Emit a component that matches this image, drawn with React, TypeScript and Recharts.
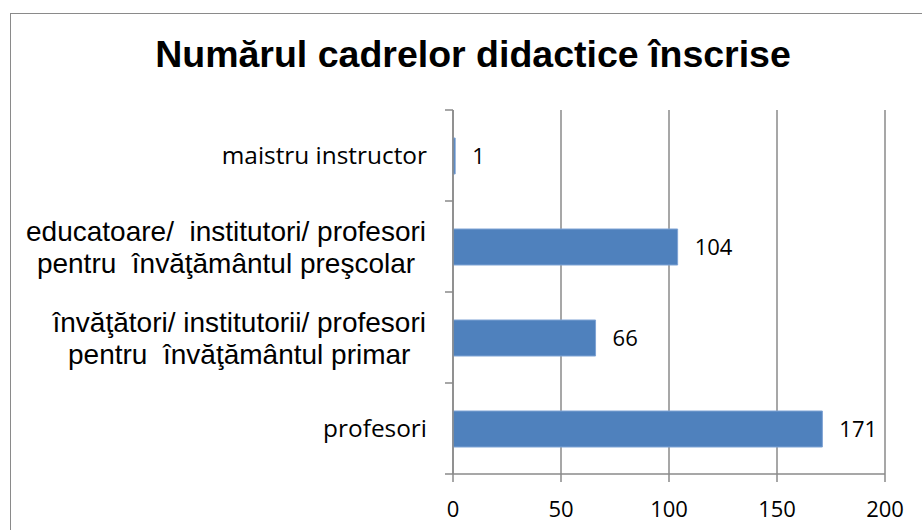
import React from "react";
import { BarChart, Bar, XAxis, YAxis, CartesianGrid, LabelList } from "recharts";

const categories: string[][] = [
  ["maistru instructor"],
  ["educatoare/  institutori/ profesori", "pentru  învăţământul preşcolar"],
  ["învăţători/ institutorii/ profesori", "pentru  învăţământul primar"],
  ["profesori"],
];
const values: number[] = [1, 104, 66, 171];
const xTicks: number[] = [0, 50, 100, 150, 200];
const title = "Numărul cadrelor didactice înscrise";

const data = categories.map((lines, i) => ({ name: lines.join("\n"), value: values[i] }));

const W = 922;
const H = 530;
const TOP = 110;
const BOTTOM_AXIS = 56;
const AXIS_X = 453;
const BAND = (H - BOTTOM_AXIS - TOP) / categories.length;
const GRID = "#8a8a8a";
const MULTI_FONT = "28px 'Liberation Sans', Arial";

let ctx: CanvasRenderingContext2D | null = null;
const measure = (s: string): number => {
  if (typeof document === "undefined") return s.length * 12;
  if (!ctx) ctx = document.createElement("canvas").getContext("2d");
  if (!ctx) return s.length * 12;
  ctx.font = MULTI_FONT;
  return ctx.measureText(s).width;
};

const YTick = (props: any) => {
  const { y, payload, index } = props;
  const lines: string[] = String(payload.value).split("\n");
  const last = index === categories.length - 1;
  const right = AXIS_X - 27;
  let cx = right;
  if (lines.length > 1) {
    const maxW = Math.max(...lines.map(measure));
    cx = right - maxW / 2;
  }
  return (
    <g>
      <line x1={AXIS_X - 8} x2={AXIS_X} y1={y - BAND / 2} y2={y - BAND / 2} stroke={GRID} strokeWidth={1.5} />
      {last && (
        <line x1={AXIS_X - 8} x2={AXIS_X} y1={y + BAND / 2} y2={y + BAND / 2} stroke={GRID} strokeWidth={1.5} />
      )}
      {lines.length === 1 ? (
        <text x={AXIS_X - 26} y={y + 8} textAnchor="end" fill="#000" fontFamily="'Open Sans'" fontSize={24.4}>
          {lines[0]}
        </text>
      ) : (
        <text
          textAnchor="middle"
          fill="#000"
          fontFamily="'Liberation Sans', Arial"
          fontSize={28}
          style={{ whiteSpace: "pre" }}
        >
          <tspan x={cx} y={y - 6}>{lines[0]}</tspan>
          <tspan x={cx} y={y + 26}>{lines[1]}</tspan>
        </text>
      )}
    </g>
  );
};

export default function App() {
  return (
    <div style={{ position: "absolute", left: 0, top: 0, width: W, height: H, background: "#fff", overflow: "hidden" }}>
      <div
        style={{
          position: "absolute",
          left: 10,
          top: 13,
          width: W,
          height: H,
          borderTop: "1.5px solid #8a8a8a",
          borderLeft: "1.5px solid #8a8a8a",
          boxSizing: "border-box",
        }}
      />
      <div
        style={{
          position: "absolute",
          left: 0,
          top: 36.3,
          width: 946,
          textAlign: "center",
          fontFamily: "'Liberation Sans', Arial",
          fontWeight: "bold",
          fontSize: 37.5,
          lineHeight: "37.5px",
          color: "#000",
          whiteSpace: "nowrap",
        }}
      >
        {title}
      </div>
      <div style={{ position: "absolute", left: 0, top: 0 }}>
        <BarChart
          width={W}
          height={H}
          data={data}
          layout="vertical"
          margin={{ top: TOP, right: 37, bottom: 0, left: 0 }}
        >
          <CartesianGrid horizontal={false} stroke={GRID} strokeWidth={1.5} />
          <XAxis
            type="number"
            domain={[0, 200]}
            ticks={xTicks}
            height={BOTTOM_AXIS}
            tickSize={8}
            tickMargin={19}
            axisLine={{ stroke: GRID, strokeWidth: 1.5 }}
            tickLine={{ stroke: GRID, strokeWidth: 1.5 }}
            tick={{ fill: "#000", fontFamily: "'Open Sans'", fontSize: 22 }}
            interval={0}
          />
          <YAxis
            type="category"
            dataKey="name"
            width={AXIS_X}
            tickLine={false}
            axisLine={{ stroke: GRID, strokeWidth: 1.5 }}
            tick={<YTick />}
            interval={0}
          />
          <Bar dataKey="value" fill="#4F81BD" stroke="#7fa3d4" strokeWidth={1} barSize={36} isAnimationActive={false}>
            <LabelList
              dataKey="value"
              position="right"
              offset={17}
              fill="#000"
              fontFamily="'Open Sans'"
              fontSize={22}
            />
          </Bar>
        </BarChart>
      </div>
    </div>
  );
}
